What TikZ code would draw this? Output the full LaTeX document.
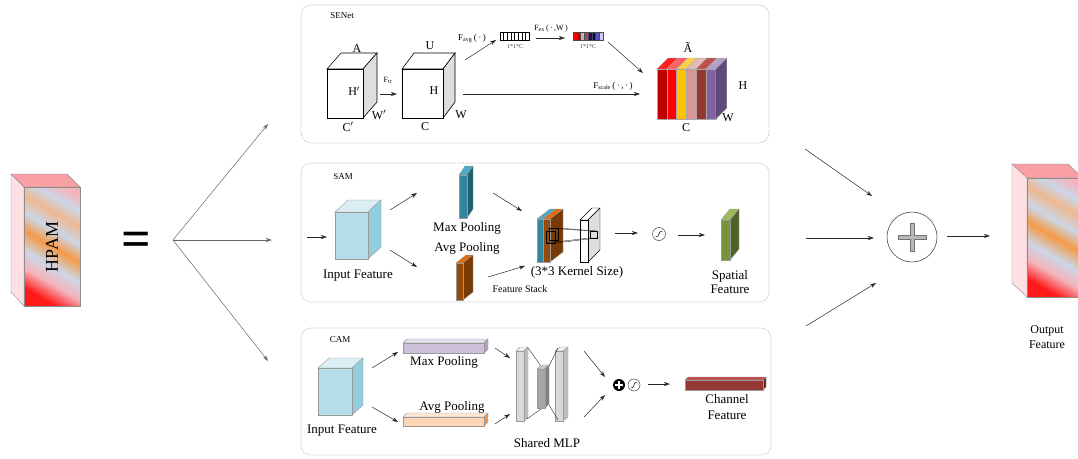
\documentclass[tikz,border=0pt]{standalone}
\usepackage{fontspec}
\setmainfont{Liberation Serif}
\usetikzlibrary{arrows.meta}

\definecolor{hpRed}{HTML}{FF1A1A}
\definecolor{hpPink}{HTML}{F4B4BC}
\definecolor{hpBlue}{HTML}{CCD6E6}
\definecolor{hpOrange}{HTML}{F49A48}
\definecolor{hpMix}{HTML}{EDB892}
\pgfdeclarehorizontalshading{hpamshade}{100bp}{color(0bp)=(hpRed); color(24bp)=(hpRed); color(33bp)=(hpPink); color(41bp)=(hpBlue); color(50bp)=(hpOrange); color(58bp)=(hpBlue); color(66bp)=(hpMix); color(73bp)=(hpBlue); color(80bp)=(hpPink); color(100bp)=(hpPink)}

% cuboid: [style] x y w h dx dy colour-prefix (F=front, S=side, T=top)
\newcommand{\cuboid}[8][]{%
  \filldraw[#1, fill=#8T] (#2,#3) -- ++(#6,-#7) -- ++(#4,0) -- ++(-#6,#7) -- cycle;
  \filldraw[#1, fill=#8S] (#2+#4,#3) -- ++(#6,-#7) -- ++(0,#5) -- ++(-#6,#7) -- cycle;
  \filldraw[#1, fill=#8F] (#2,#3) rectangle ++(#4,#5);
}

\tikzset{
  panel/.style={draw=black!28, dash pattern=on 1pt off 1pt, line width=.7pt, rounded corners=10pt},
  arr/.style={-{Stealth[length=6pt,width=4pt]}, line width=.5pt, draw=black!85},
  lbl/.style={font=\fontsize{13}{14}\selectfont, inner sep=0pt, align=center},
  cubelbl/.style={font=\fontsize{12}{14}\selectfont, inner sep=0pt},
  fnlbl/.style={font=\fontsize{9}{10}\selectfont, inner sep=0pt},
  dimlbl/.style={font=\fontsize{6}{7}\selectfont, inner sep=0pt, text=black!75},
  sig/.style={circle, draw=black!75, line width=.5pt, minimum size=13pt, inner sep=0pt},
  edge3d/.style={draw=black, line width=.6pt},
  soft3d/.style={draw=black!40, line width=.4pt}
}

\begin{document}
\begin{tikzpicture}[x=1pt, y=-1pt]
    \definecolor{whF}{HTML}{FFFFFF}
    \definecolor{whS}{HTML}{DEDEDE}
    \definecolor{whT}{HTML}{FFFFFF}
    \definecolor{cbF}{HTML}{B7DEE8}
    \definecolor{cbS}{HTML}{92CDDC}
    \definecolor{cbT}{HTML}{DAEEF3}
    \definecolor{tlF}{HTML}{31859C}
    \definecolor{tlS}{HTML}{215F6E}
    \definecolor{tlT}{HTML}{4BACC6}
    \definecolor{orF}{HTML}{984807}
    \definecolor{orS}{HTML}{7A3A06}
    \definecolor{orT}{HTML}{E46C0A}
    \definecolor{grF}{HTML}{77933C}
    \definecolor{grS}{HTML}{4F6228}
    \definecolor{grT}{HTML}{9BBB59}
    \definecolor{lvF}{HTML}{CCC0DA}
    \definecolor{lvS}{HTML}{B3A2C7}
    \definecolor{lvT}{HTML}{E4DFEC}
    \definecolor{pcF}{HTML}{FCD5B4}
    \definecolor{pcS}{HTML}{F79646}
    \definecolor{pcT}{HTML}{FDE9D9}
    \definecolor{mlF}{HTML}{D9D9D9}
    \definecolor{mlS}{HTML}{BFBFBF}
    \definecolor{mlT}{HTML}{F2F2F2}
    \definecolor{mdF}{HTML}{A6A6A6}
    \definecolor{mdS}{HTML}{808080}
    \definecolor{mdT}{HTML}{C8C8C8}
    \definecolor{chF}{HTML}{953735}
    \definecolor{chS}{HTML}{632523}
    \definecolor{chT}{HTML}{C0504D}
    \definecolor{hpTop}{HTML}{F8A0A4}
    \definecolor{hpSide}{HTML}{FFE0E2}
    \definecolor{slA}{HTML}{C00000}
    \definecolor{slB}{HTML}{FF0000}
    \definecolor{slC}{HTML}{FFC000}
    \definecolor{slD}{HTML}{D99694}
    \definecolor{slE}{HTML}{953735}
    \definecolor{slF}{HTML}{8064A2}
    \definecolor{slG}{HTML}{604A7B}
    \definecolor{tpA}{HTML}{FF2020}
    \definecolor{tpB}{HTML}{FF6060}
    \definecolor{tpC}{HTML}{FFD04A}
    \definecolor{tpD}{HTML}{E6B9B8}
    \definecolor{tpE}{HTML}{C0504D}
    \definecolor{tpF}{HTML}{B3A2C7}
    %\draw[help lines, step=50] (0,0) grid (1078,458);
    \useasboundingbox (0,0) rectangle (1078,458);

    % panels
    \draw[panel] (301,5) rectangle (769,143);
    \draw[panel] (301,163) rectangle (769,302);
    \draw[panel] (301,328) rectangle (771,455);

    % HPAM block
    \filldraw[draw=black!45, line width=.4pt, fill=hpTop] (24,187) -- (11,174) -- (67,174) -- (80,187) -- cycle;
    \filldraw[draw=black!45, line width=.4pt, fill=hpSide] (24,187) -- (11,174) -- (11,292) -- (24,306) -- cycle;
    \shade[shading=hpamshade, shading angle=60] (24,187) rectangle (80,306);
    \draw[draw=black!45, line width=.4pt] (24,187) rectangle (80,306);
    \node[font=\fontsize{18}{18}\selectfont, rotate=90, inner sep=0pt] (hpam) at (52,247) {HPAM};
    \node[font=\fontsize{52}{52}\selectfont\bfseries, inner sep=0pt] (equal) at (136,244) {=};

    % fork
    \coordinate (fork) at (173,240);
    \coordinate (toSE) at (268,124);
    \coordinate (toSA) at (272,240);
    \coordinate (toCA) at (268,361);
    \draw[arr, draw=black!60] (fork) -- (toSE);
    \draw[arr, draw=black!60] (fork) -- (toSA);
    \draw[arr, draw=black!60] (fork) -- (toCA);

    % SENet
    \node[fnlbl] (senet) at (342,16) {SENet};
    \cuboid[edge3d]{327}{69}{36}{49}{14}{16}{wh}
    \node[cubelbl] (lA) at (357,49) {A};
    \node[cubelbl] (lHp) at (354,91) {H$'$};
    \node[cubelbl] (lCp) at (348,127) {C$'$};
    \node[cubelbl] (lWp) at (379,115) {W$'$};
    \coordinate (trS) at (380,94);
    \coordinate (trE) at (397,94);
    \draw[arr] (trS) -- (trE);
    \node[font=\fontsize{8}{9}\selectfont, inner sep=0pt] (ftr) at (388,80) {F\textsubscript{tr}};
    \cuboid[edge3d]{402}{69}{41}{49}{12}{16}{wh}
    \node[cubelbl] (lU) at (430,46) {U};
    \node[cubelbl] (lH) at (434,91) {H};
    \node[cubelbl] (lC) at (425,127) {C};
    \node[cubelbl] (lW) at (461,115) {W};
    \coordinate (avS) at (465,60);
    \coordinate (avE) at (496,40);
    \draw[arr] (avS) -- (avE);
    \node[fnlbl] (favg) at (472,39) {F\textsubscript{avg}\,(\,·\,)};
    \foreach \i in {0,...,7}
        \draw[line width=.4pt] (500+\i*3.625,32) rectangle ++(3.625,8);
    \node[dimlbl] (dim1) at (515,47) {1*1*C};
    \coordinate (exS) at (536,38);
    \coordinate (exE) at (565,38);
    \draw[arr] (exS) -- (exE);
    \node[font=\fontsize{8}{9}\selectfont, inner sep=0pt] (fex) at (551,29) {F\textsubscript{ex}\,(\,·\,,W\,)};
    \foreach \c [count=\i from 0] in {red, red!75!black, pink!70!gray, violet!35!gray, violet!50!black, blue!45!black, blue!35!gray, blue!20!white}
        \filldraw[draw=black!70, line width=.3pt, fill=\c] (573+\i*3.75,32) rectangle ++(3.75,8);
    \node[dimlbl] (dim2) at (588,47) {1*1*C};
    \coordinate (v2S) at (608,42);
    \coordinate (v2E) at (643,73);
    \draw[arr] (v2S) -- (v2E);
    \coordinate (scS) at (463,94);
    \coordinate (scE) at (640,94);
    \draw[arr] (scS) -- (scE);
    \node[fnlbl] (fscale) at (613,86) {F\textsubscript{scale}\,(\,·\,,\,·\,)};
    % coloured cube
    \foreach \f/\t [count=\i from 0] in {slA/tpA, slB/tpB, slC/tpC, slD/tpD, slE/tpE, slF/tpF} {
        \filldraw[draw=black!35, line width=.3pt, fill=\t] (657+\i*9.8,69) -- ++(11,-11) -- ++(9.8,0) -- ++(-11,11) -- cycle;
        \filldraw[draw=black!35, line width=.3pt, fill=\f] (657+\i*9.8,69) rectangle ++(9.8,50);
    }
    \filldraw[draw=black!35, line width=.3pt, fill=slG] (715.8,69) -- ++(11,-11) -- ++(0,50) -- ++(-11,11) -- cycle;
    \node[cubelbl] (lAt) at (688,47) {Ã};
    \node[cubelbl] (lH2) at (743,86) {H};
    \node[cubelbl] (lC2) at (686,128) {C};
    \node[cubelbl] (lW2) at (728,118) {W};

    % SAM
    \node[fnlbl] (sam) at (343,177) {SAM};
    \coordinate (inS) at (307,237);
    \coordinate (inE) at (327,237);
    \draw[arr] (inS) -- (inE);
    \cuboid[soft3d]{335}{212}{33}{47}{13}{12}{cb}
    \node[lbl] (inputS) at (358,276) {Input Feature};
    \coordinate (upS) at (390,210);
    \coordinate (upE) at (417,193);
    \coordinate (dnS) at (390,250);
    \coordinate (dnE) at (417,267);
    \draw[arr] (upS) -- (upE);
    \draw[arr] (dnS) -- (dnE);
    \cuboid[soft3d]{459}{175}{8}{43}{6}{9}{tl}
    \cuboid[soft3d]{456}{263}{7}{37}{10}{8}{or}
    \node[lbl] (maxS) at (467,228) {Max Pooling};
    \node[lbl] (avgS) at (467,248) {Avg Pooling};
    \coordinate (mxS) at (493,193);
    \coordinate (mxE) at (522,211);
    \coordinate (agS) at (488,277);
    \coordinate (agE) at (525,266);
    \draw[arr] (mxS) -- (mxE);
    \draw[arr] (agS) -- (agE);
    \cuboid[soft3d]{537}{219}{6}{43}{13}{10}{tl}
    \cuboid[soft3d]{543}{219}{7}{43}{13}{10}{or}
    \cuboid[edge3d, line width=.4pt]{580}{220}{8}{42}{12}{12}{wh}
    % kernel window
    \draw[line width=.4pt] (546,231) rectangle (555,243);
    \draw[line width=.4pt] (549,228) rectangle (558,240);
    \draw[line width=.3pt] (590,231) rectangle (597,238);
    \draw[line width=.3pt] (549,228) -- (590,231);
    \draw[line width=.3pt] (558,228) -- (597,231);
    \draw[line width=.3pt] (546,243) -- (590,238);
    \draw[line width=.3pt] (555,243) -- (597,238);
    \node[lbl] (kernel) at (577,272) {(3*3 Kernel Size)};
    \node[font=\fontsize{10}{11}\selectfont, inner sep=0pt] (stack) at (520,289) {Feature Stack};
    \node[sig] (sigS) at (659,234) {};
    \begin{scope}[shift={(sigS.center)}]
        \draw[line width=.5pt] (-3.5,3) .. controls (1.5,3) and (-1.5,-3) .. (3.5,-3);
    \end{scope}
    \coordinate (ksS) at (615,233);
    \coordinate (ksE) at (638,233);
    \draw[arr] (ksS) -- (ksE);
    \coordinate (sgS) at (678,235);
    \coordinate (sgE) at (705,235);
    \draw[arr] (sgS) -- (sgE);
    \cuboid[soft3d]{721}{220}{9}{40}{9}{11}{gr}
    \node[lbl] (spatial) at (730,282) {Spatial\\Feature};

    % CAM
    \node[fnlbl] (cam) at (340,340) {CAM};
    \cuboid[soft3d]{318}{368}{34}{47}{11}{10}{cb}
    \node[lbl] (inputC) at (342,431) {Input Feature};
    \coordinate (cuS) at (372,368);
    \coordinate (cuE) at (398,352);
    \coordinate (cdS) at (372,407);
    \coordinate (cdE) at (398,422);
    \draw[arr] (cuS) -- (cuE);
    \draw[arr] (cdS) -- (cdE);
    \cuboid[soft3d]{403}{343}{81}{10}{4}{4}{lv}
    \cuboid[soft3d]{403}{417}{81}{9}{4}{4}{pc}
    \node[lbl] (maxC) at (444,362) {Max Pooling};
    \node[lbl] (avgC) at (452,407) {Avg Pooling};
    \coordinate (m1S) at (495,348);
    \coordinate (m1E) at (510,358);
    \coordinate (m2S) at (495,424);
    \coordinate (m2E) at (510,414);
    \draw[arr] (m1S) -- (m1E);
    \draw[arr] (m2S) -- (m2E);
    \cuboid[soft3d]{516}{351}{8}{70}{4}{4}{ml}
    \cuboid[soft3d]{555}{351}{8}{70}{5}{4}{ml}
    \draw[line width=.3pt] (528,348) -- (541,366);
    \draw[line width=.3pt] (549,366) -- (558,348);
    \draw[line width=.3pt] (527,419) -- (541,409);
    \draw[line width=.3pt] (549,405) -- (558,420);
    \cuboid[soft3d]{537}{369}{8}{39}{4}{4}{md}
    \node[lbl] (mlp) at (547,443) {Shared MLP};
    \coordinate (o1S) at (584,351);
    \coordinate (o1E) at (605,377);
    \coordinate (o2S) at (584,417);
    \coordinate (o2E) at (605,395);
    \draw[arr] (o1S) -- (o1E);
    \draw[arr] (o2S) -- (o2E);
    \node[circle, fill=black, minimum size=12pt, inner sep=0pt] (addC) at (619,385) {};
    \begin{scope}[shift={(addC.center)}]
        \draw[white, line width=1.6pt] (-4,0) -- (4,0) (0,-4) -- (0,4);
    \end{scope}
    \node[sig, minimum size=12pt] (sigC) at (634,385) {};
    \begin{scope}[shift={(sigC.center)}]
        \draw[line width=.5pt] (-3,3) .. controls (1.5,3) and (-1.5,-3) .. (3,-3);
    \end{scope}
    \coordinate (chS) at (648,384);
    \coordinate (chE) at (670,384);
    \draw[arr] (chS) -- (chE);
    \cuboid[soft3d]{685}{380}{78}{10}{3}{3}{ch}
    \node[lbl, font=\fontsize{13}{16}\selectfont] (channel) at (727,407) {Channel\\Feature};

    % fusion
    \node[circle, draw=black!70, line width=.6pt, minimum size=50pt, inner sep=0pt] (sum) at (912,237) {};
    \begin{scope}[shift={(sum.center)}]
        \filldraw[fill=black!28, draw=black!55, line width=.5pt] (-2,-14) -- (2,-14) -- (2,-2) -- (14,-2) -- (14,2) -- (2,2) -- (2,14) -- (-2,14) -- (-2,2) -- (-14,2) -- (-14,-2) -- (-2,-2) -- cycle;
    \end{scope}
    \coordinate (fromSE) at (805,149);
    \coordinate (inSE) at (872,196);
    \coordinate (fromSA) at (806,238);
    \coordinate (inSA) at (874,238);
    \coordinate (fromCA) at (806,326);
    \coordinate (inCA) at (876,283);
    \draw[arr] (fromSE) -- (inSE);
    \draw[arr] (fromSA) -- (inSA);
    \draw[arr] (fromCA) -- (inCA);
    \coordinate (outS) at (947,236);
    \coordinate (outE) at (990,236);
    \draw[arr] (outS) -- (outE);

    % output block
    \filldraw[draw=black!45, line width=.4pt, fill=hpTop] (1027,178) -- (1012,164) -- (1068,164) -- (1083,178) -- cycle;
    \filldraw[draw=black!45, line width=.4pt, fill=hpSide] (1027,178) -- (1012,164) -- (1012,283) -- (1027,297) -- cycle;
    \shade[shading=hpamshade, shading angle=60] (1027,178) rectangle (1083,297);
    \draw[draw=black!45, line width=.4pt] (1027,178) rectangle (1083,297);
    \node[lbl, font=\fontsize{12}{15}\selectfont] (output) at (1047,337) {Output\\Feature};
\end{tikzpicture}
\end{document}
